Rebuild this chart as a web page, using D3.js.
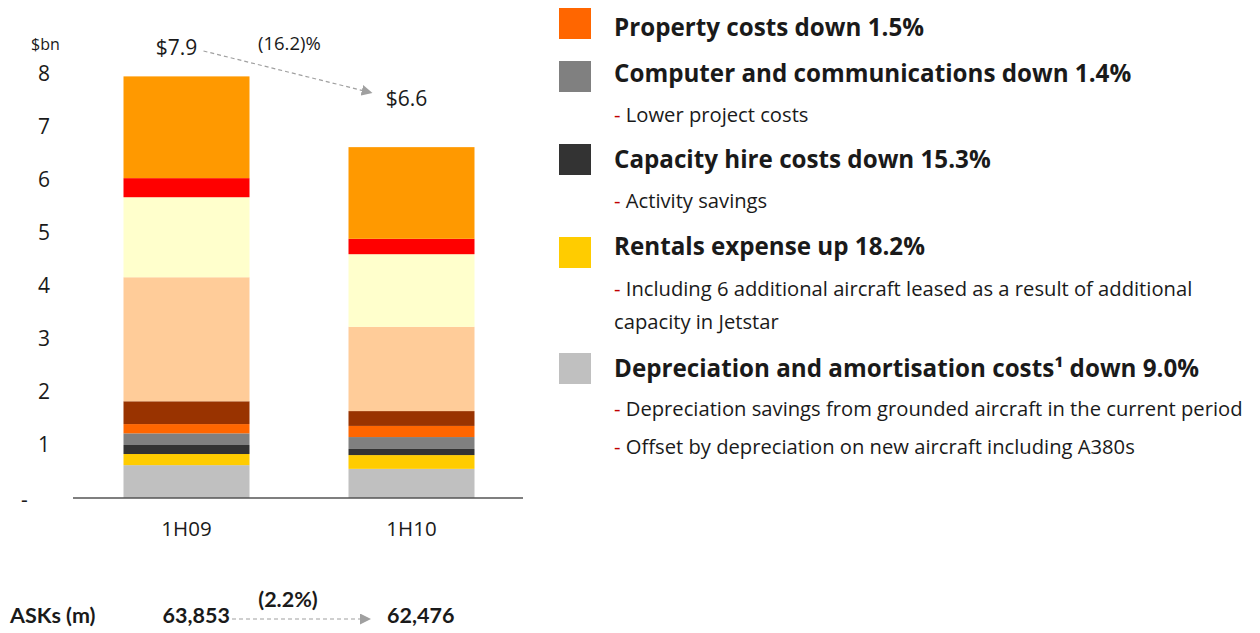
<!DOCTYPE html>
<html>
<head>
<meta charset="utf-8">
<script src="https://cdn.jsdelivr.net/npm/d3@7"></script>
<style>
  body { margin: 0; background: #fff; }
  text { font-family: "Open Sans", sans-serif; fill: #1a1a1a; }
</style>
</head>
<body>
<svg id="main"></svg>
<script>
// categories and stacked cost components, bottom to top ($bn)
var categories = ["1H09", "1H10"];
var seriesKeys = ["depreciation", "rentals", "capacityHire", "computerComms", "property",
                  "other1", "other2", "other3", "other4", "other5"];
var seriesColors = ["#C0C0C0", "#FFCC00", "#333333", "#808080", "#FF6600",
                    "#993300", "#FFCC99", "#FFFFCC", "#FF0000", "#FF9900"];
var values1H09 = [0.62, 0.21, 0.17, 0.22, 0.175, 0.43, 2.34, 1.51, 0.36, 1.92];
var values1H10 = [0.55, 0.26, 0.115, 0.225, 0.21, 0.28, 1.59, 1.37, 0.29, 1.73];
var totalLabels = ["$7.9", "$6.6"];
var changeLabel = "(16.2)%";
var yTicks = [0, 1, 2, 3, 4, 5, 6, 7, 8];

var askLabels = ["63,853", "62,476"];
var askChange = "(2.2%)";

var legendColors = ["#FF6600", "#808080", "#333333", "#FFCC00", "#C0C0C0"];
var legendTitles = ["Property costs down 1.5%",
                    "Computer and communications down 1.4%",
                    "Capacity hire costs down 15.3%",
                    "Rentals expense up 18.2%",
                    "Depreciation and amortisation costs\u00B9 down 9.0%"];
var legendNotes = [[],
                   ["Lower project costs"],
                   ["Activity savings"],
                   ["Including 6 additional aircraft leased as a result of additional", "capacity in Jetstar"],
                   [" Depreciation savings from grounded aircraft in the current period",
                    "Offset by depreciation on new aircraft including A380s"]];

var w = 1260;
var h = 633;

var svg = d3.select("#main")
  .attr("width", w)
  .attr("height", h);

// build rows for the stack
var rows = categories.map(function(c, i) {
  var vals = i == 0 ? values1H09 : values1H10;
  var row = { cat: c };
  seriesKeys.forEach(function(k, j) { row[k] = vals[j]; });
  return row;
});
var stacked = d3.stack().keys(seriesKeys)(rows);

var xScale = d3.scaleBand()
  .domain(categories)
  .range([74, 524])
  .paddingInner(0.44)
  .paddingOuter(0.22);

var yScale = d3.scaleLinear()
  .domain([0, 8])
  .range([498, 74]);

svg.append("g")
  .selectAll("g")
  .data(stacked)
  .enter()
  .append("g")
  .attr("fill", function(d, i) { return seriesColors[i]; })
  .selectAll("rect")
  .data(function(d) { return d; })
  .enter()
  .append("rect")
  .attr("x", function(d) { return xScale(d.data.cat); })
  .attr("y", function(d) { return yScale(d[1]); })
  .attr("height", function(d) { return yScale(d[0]) - yScale(d[1]); })
  .attr("width", xScale.bandwidth());

// y axis
var yAxis = d3.axisLeft(yScale)
  .tickValues(yTicks)
  .tickSize(0)
  .tickPadding(0)
  .tickFormat(function(d) { return d == 0 ? "-" : d; });

var yg = svg.append("g")
  .attr("transform", "translate(50,0)")
  .call(yAxis);
yg.select(".domain").remove();
yg.selectAll("text")
  .style("font-family", "Open Sans, sans-serif")
  .style("font-size", "21px")
  .attr("fill", "#1a1a1a")
  .filter(function(d) { return d == 0; })
  .attr("x", -29)
  .attr("dy", "0.4em")
  .attr("text-anchor", "start");

svg.append("text")
  .attr("x", 31)
  .attr("y", 50)
  .style("font-size", "16px")
  .text("$bn");

// x axis
var xAxis = d3.axisBottom(xScale).tickSize(0).tickPadding(23);
var xg = svg.append("g")
  .attr("transform", "translate(0,498)")
  .call(xAxis);
xg.select(".domain").remove();
xg.selectAll("text")
  .style("font-family", "Open Sans, sans-serif")
  .style("font-size", "20.5px")
  .attr("fill", "#1a1a1a");

svg.append("line")
  .attr("x1", 73).attr("x2", 523)
  .attr("y1", 498).attr("y2", 498)
  .attr("stroke", "#555")
  .attr("stroke-width", 1.5);

// arrowhead
svg.append("defs").append("marker")
  .attr("id", "arr")
  .attr("viewBox", "0 0 10 10")
  .attr("refX", 10).attr("refY", 5)
  .attr("markerWidth", 11).attr("markerHeight", 11)
  .attr("markerUnits", "userSpaceOnUse")
  .attr("orient", "auto")
  .append("path")
  .attr("d", "M0,0 L10,5 L0,10 Z")
  .attr("fill", "#A0A0A0");

// totals and change arrow
var totals = [d3.sum(values1H09), d3.sum(values1H10)];
var c0 = xScale(categories[0]) + xScale.bandwidth() / 2;
var c1 = xScale(categories[1]) + xScale.bandwidth() / 2;

svg.append("text")
  .attr("x", c0 - 10).attr("y", yScale(totals[0]) - 21)
  .attr("text-anchor", "middle")
  .style("font-size", "21px")
  .text(totalLabels[0]);
svg.append("text")
  .attr("x", c1 - 5).attr("y", yScale(totals[1]) - 41)
  .attr("text-anchor", "middle")
  .style("font-size", "21px")
  .text(totalLabels[1]);
svg.append("text")
  .attr("x", 258).attr("y", 50)
  .style("font-size", "18.5px")
  .text(changeLabel);

svg.append("line")
  .attr("x1", c0 + 17).attr("y1", 51)
  .attr("x2", c1 - 39).attr("y2", 93)
  .attr("stroke", "#A0A0A0")
  .attr("stroke-width", 1.2)
  .attr("stroke-dasharray", "4,3")
  .attr("marker-end", "url(#arr)");

// ASKs row
function askText(x, y, anchor, s) {
  svg.append("text")
    .attr("x", x).attr("y", y)
    .attr("text-anchor", anchor)
    .style("font-family", "Lato, sans-serif")
    .style("font-weight", "bold")
    .style("font-size", "21.5px")
    .attr("fill", "#000")
    .text(s);
}
askText(10, 623, "start", "ASKs (m)");
askText(230, 623, "end", askLabels[0]);
askText(387, 623, "start", askLabels[1]);
askText(288, 607, "middle", askChange);

svg.append("line")
  .attr("x1", 232).attr("y1", 619)
  .attr("x2", 371).attr("y2", 619)
  .attr("stroke", "#A0A0A0")
  .attr("stroke-width", 1.2)
  .attr("stroke-dasharray", "4,3")
  .attr("marker-end", "url(#arr)");

// legend / commentary
var legendTop = [8, 61, 144, 237, 353];
var titleBase = [36, 82, 168, 255, 377];
var noteBase = [[], [122], [208], [296, 329], [416, 454]];

var lg = svg.append("g");
legendTitles.forEach(function(t, i) {
  lg.append("rect")
    .attr("x", 559).attr("y", legendTop[i])
    .attr("width", 32).attr("height", 31)
    .attr("fill", legendColors[i]);
  lg.append("text")
    .attr("x", 614).attr("y", titleBase[i])
    .style("font-weight", "bold")
    .style("font-size", "24.2px")
    .attr("fill", "#000")
    .text(t);
  legendNotes[i].forEach(function(n, j) {
    var tx = lg.append("text")
      .attr("x", 614).attr("y", noteBase[i][j])
      .style("font-size", "20.2px");
    var continued = (i == 3 && j == 1);
    if (!continued) {
      tx.append("tspan").attr("fill", "#C00000").text("- ");
    }
    tx.append("tspan").text(n);
  });
});
</script>
</body>
</html>
